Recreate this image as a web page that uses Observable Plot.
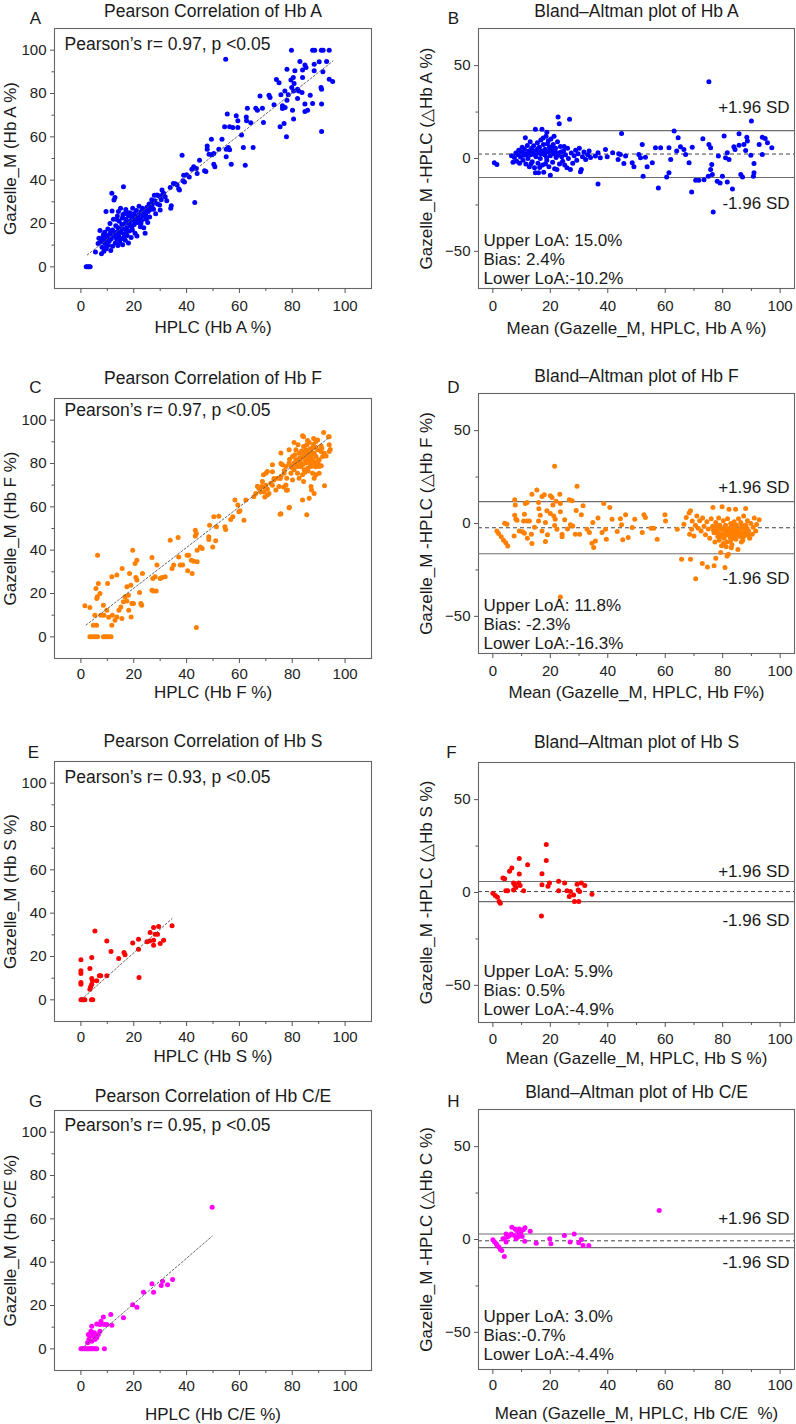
<!DOCTYPE html>
<html>
<head>
<meta charset="utf-8">
<script src="https://cdn.jsdelivr.net/npm/d3@7"></script>
<script src="https://cdn.jsdelivr.net/npm/@observablehq/plot@0.6"></script>
<style>
  body { margin: 0; background: #fff; }
  #chart { position: relative; width: 796px; height: 1424px; font-family: "Liberation Sans", Arial, sans-serif; }
</style>
</head>
<body>
<div id="chart"></div>
<script>
// ---------------- DATA ----------------
const panelIds = ["A", "B", "C", "D", "E", "F", "G", "H"];
const titles = [
  "Pearson Correlation of Hb A", "Bland\u2013Altman plot of Hb A",
  "Pearson Correlation of Hb F", "Bland\u2013Altman plot of Hb F",
  "Pearson Correlation of Hb S", "Bland\u2013Altman plot of Hb S",
  "Pearson Correlation of Hb C/E", "Bland\u2013Altman plot of Hb C/E"
];
const xLabels = [
  "HPLC (Hb A %)", "Mean (Gazelle_M, HPLC, Hb A %)",
  "HPLC (Hb F %)", "Mean (Gazelle_M, HPLC, Hb F%)",
  "HPLC (Hb S %)", "Mean (Gazelle_M, HPLC, Hb S %)",
  "HPLC (Hb C/E %)", "Mean (Gazelle_M, HPLC, Hb C/E\u00a0 %)"
];
const yLabels = [
  "Gazelle_M (Hb A %)", "Gazelle_M -HPLC (\u25B3Hb A %)",
  "Gazelle_M (Hb F %)", "Gazelle_M -HPLC (\u25B3Hb F %)",
  "Gazelle_M (Hb S %)", "Gazelle_M -HPLC (\u25B3Hb S %)",
  "Gazelle_M (Hb C/E %)", "Gazelle_M -HPLC (\u25B3Hb C %)"
];
const pearsonNotes = [
  "Pearson\u2019s r= 0.97, p <0.05", "Pearson\u2019s r= 0.97, p <0.05",
  "Pearson\u2019s r= 0.93, p <0.05", "Pearson\u2019s r= 0.95, p <0.05"
];
// Bland-Altman: [upper LoA, bias, lower LoA]
const loaA = [15.0, 2.4, -10.2];
const loaF = [11.8, -2.3, -16.3];
const loaS = [5.9, 0.5, -4.9];
const loaC = [3.0, -0.7, -4.4];
const loaTextA = ["Upper LoA: 15.0%", "Bias: 2.4%", "Lower LoA:-10.2%"];
const loaTextF = ["Upper LoA: 11.8%", "Bias: -2.3%", "Lower LoA:-16.3%"];
const loaTextS = ["Upper LoA: 5.9%", "Bias: 0.5%", "Lower LoA:-4.9%"];
const loaTextC = ["Upper LoA: 3.0%", "Bias:-0.7%", "Lower LoA:-4.4%"];
const sdLabels = ["+1.96 SD", "-1.96 SD"];

// Fit lines (endpoints)
const fitA = [[2.4, 5.5], [95.4, 95]];
const fitF = [[1.9, 5.4], [94, 92]];
const fitS = [[0.3, 0.3], [34.5, 37.5]];
const fitC = [[0.2, 0], [49.7, 52]];

// Panel A: HPLC vs Gazelle_M, Hb A
const corrA = [
[2,0],[2.5,0],[3,0],[3.5,0],
[5.5,6.8],[6.5,10.8],[6.8,13.2],[7.2,16.8],[7.5,11.5],[7.8,6],[8,9],[8.2,13.5],[8.5,14.8],[8.7,7.2],[9,11],[9,16],[9.3,12.5],[9.5,25.5],[9.6,8.4],[10,13.8],[10.2,17.5],[10.4,10],[10.7,11.8],[11,15.2],[11,20],[11.3,7.5],[11.5,13],[11.7,34],[11.8,25.8],[12,17],[12,9.5],[12.3,22],[12.5,14.5],[12.5,30.8],[12.9,32],[13,11],[13.2,19],[13.5,16],[13.6,12.8],[13.8,23.5],[14,9.8],[14,18],[14.2,25.5],[14.3,14.4],[14.5,21],[14.7,11.5],[15,16.8],[15,27],[15.3,13],[15.5,19.5],[15.7,22.5],[15.8,10.2],[16,17.5],[16.1,37],[16.3,24.5],[16.5,15],[16.6,20],[16.8,12.3],[17,22],[17,26.5],[17.3,18],[17.5,14.5],[17.7,20.8],[18,23.5],[18,11],[18.3,16.5],[18.5,25],[18.6,21],[18.8,19],[19,13.5],[19.2,23],[19.5,17],[19.6,27],[19.8,21.5],[20,24.5],[20.2,19.5],[20.5,15.5],[20.8,22.8],[21,26],[21.2,14.2],[21.5,20.5],[21.8,24],[22,28],[22.2,22],[22.5,18.5],[22.8,25.5],[23,21.5],[23.3,27],[23.5,23.5],[23.8,18],[24,26],[24.3,15.5],[24.5,24],[24.7,22],[25,27.5],[25.3,20.5],[25.5,25.5],[25.8,29],[26,23],[26.3,26.5],[26.8,31],[27,28.5],[27.5,26.6],[27.8,33],[28,30.5],[28.3,24.5],[28.8,33.2],[29,29],[29.4,32.8],[29.8,28.5],[30,26.2],[30,32.3],[30.4,31],[30.7,35.5],[31,33.5],[31.3,34],[31.9,32.3],[32.5,30.5],[33.8,36.6],[34,27],[34.2,28.2],[35,38.5],[35.7,38.4],[36.4,37.8],[37,36],[37.3,35.5],[38.3,51.5],[38.6,39.7],[38.9,42.3],[39.2,39.2],[40,42.5],[41,41.5],[42,45],[42.7,46.2],[43.1,29.7],[43.7,45.4],[44,43.1],[44.9,49.2],[46.8,44.3],[47.3,44],[47.8,55.8],[47.8,54.3],[48.5,52],[49.4,58.9],[49.6,51.7],[50.3,47.4],[50.3,52.3],[50.7,46.2],[52.2,54.3],[53.4,58.9],[54.4,64.6],[54.8,95.8],[55,50.8],[55,54.3],[55.4,70.5],[55.8,55.1],[56.3,54],[56.3,64.6],[56.9,47.4],[57.5,64.3],[58.8,69.7],[59.4,64.3],[59.4,67.4],[60.8,60.9],[61.5,55.1],[62.2,46.9],[62.6,69.2],[62.7,67.4],[63,73.2],[64.3,66.5],[65.2,55.1],[66.2,73.2],[66.8,72.3],[67.8,78.9],[68.7,73.2],[69.1,66.6],[71.2,79.2],[71.6,78.2],[73.1,74.8],[74,86.5],[75,85],[75.4,64.6],[75.7,79.4],[76.3,74.3],[76.3,73.1],[76.9,66.2],[77.2,81.2],[77.3,73.5],[77.8,60],[78,91.2],[78,76.9],[78.5,79.4],[79.5,86.2],[79.7,100],[79.8,82.8],[80.1,72.3],[80.4,87.4],[80.5,68.2],[80.5,81.2],[80.7,84.6],[81,90.5],[82,82],[82,77.7],[82.4,81.2],[82.9,94.8],[83.7,80.5],[83.9,90.8],[83.9,87.4],[84.8,93.1],[84.8,75.1],[84.8,71.7],[85.2,92],[85.8,72.3],[86.8,79.2],[87.7,100],[87.7,75.4],[88.3,93.5],[88.3,90.5],[88.5,100],[90.2,94.6],[90.9,82.8],[91,100],[91.1,82],[91.1,75.1],[91.1,62.5],[91.6,90],[91.7,100],[93,94.8],[94,100],[94,86.6],[95.3,85.5],
[9.8,14.5],[10.5,12.8],[11.2,16.5],[12.8,15.5],[13.3,13.5],[14.8,17.5],[15.2,15.8],[16.3,13.8],[17.2,16.2],[18.2,20],[19.3,18.5],[19.9,22.8],[20.7,21],[21.7,23],[22.7,20],[23.8,24.8],[24.8,25.8],[26.5,28],[27.3,29.8],[13.7,21.8],[15.9,24],[17.8,24.8],[8.3,11.8],[9.7,9.5]
];

// Panel B: mean vs difference, Hb A
const baA = [
[0.5,-2.3],[1.4,-3.2],
[6.5,1.5],[7,-2],[7.5,0.5],[8,3],[8.3,-1.5],[8.8,2],[9,4.5],[9.3,-2.5],[9.6,0.8],[10,3.5],[10.2,6],[10.5,-1],[10.8,1.8],[11,5],[11.3,11.2],[11.5,-3],[11.8,2.5],[12,7],[12.2,0],[12.5,4],[12.7,-4.5],[13,9],[13.2,2],[13.5,5.5],[13.7,-1.8],[14,3],[14.2,6.8],[14.5,-5],[14.8,15.7],[14.8,-7.7],[15,1],[15.2,4.5],[15.5,8.5],[15.7,-2.5],[15.9,-7.7],[16,3],[16.2,6],[16.5,0],[16.7,10],[17,4],[17.1,15.7],[17.3,-3.5],[17.6,7.5],[17.7,-7.4],[18,2],[18.2,5],[18.5,12],[18.8,14.2],[18.8,-1],[19,8],[19.2,3.5],[19.5,-4.5],[19.7,6],[20,-9],[20,1.5],[20.2,10.5],[20.5,4.5],[20.8,-2],[21,7.5],[21.2,2.5],[21.5,-5.5],[21.8,5.5],[22,0.5],[22.3,-5.9],[22.5,9],[22.7,22.3],[22.8,3],[23.1,18.7],[23.2,-3],[23.5,6.5],[24,1],[24.3,-1.5],[24.6,4],[25,-3.5],[25.3,2],[25.8,-5],[26,5.5],[26.3,0],[26.7,21.1],[27,-5.9],[27.3,3],[27.8,-2.5],[28.3,1.5],[28.8,4.5],[29.2,-1],[29.7,2.5],[30.1,5.5],[30.5,-7.2],[30.8,-5.9],[31.2,1],[31.7,3.5],[32.3,-0.5],[33,2],[33.5,4],[34,0.5],
[10.7,3],[12.3,1.5],[13.8,4.2],[14.7,2],[15.8,5.5],[16.8,2.5],[17.8,3.8],[18.7,0.5],[19.8,4],[20.7,6.5],[21.7,3.5],[22.6,1.8],[23.7,3.5],[16.3,-4.8],[18.3,-2.8],[19.3,9.5],[21.3,12],[24.8,6.5],[17.5,11],[13.3,-2.8],
[35.7,1.3],[36.6,3.1],[36.6,-13.7],[37.4,0.4],[39.2,4.9],[39.8,0.9],[41.7,3.1],[43.6,-0.5],[43.8,2.5],[44.4,2.2],[44.8,13.5],[45.6,-2.7],[46.2,1.3],[48.5,-2.3],[49.1,-4.5],[50.8,2.2],[51.4,0.4],[52,7.6],[52.3,-9.5],[53.1,0.7],[53.7,-4.5],[55.5,-2.3],[56.6,5.8],[57.6,-15.9],[58.4,5.8],[60.5,-9.9],[61.3,-7.7],[61.3,5.8],[61.9,-0.5],[63.1,14.8],[64,4],[64.5,11.2],[65.3,6.3],[66.5,4.9],[67.1,2.2],[68.3,-2.3],[69.2,-18],[69.4,6.1],[70.6,-11.7],[71.7,-11.7],[73.1,10.6],[73.5,-11.4],[75,-9.5],[75.2,41.3],[75.2,7.6],[75.8,5.8],[75.8,-5.9],[76.2,-3.2],[76.4,-8.6],[76.7,-28.8],[78.1,-12.3],[78.5,1.3],[79.1,-13.2],[79.9,-9.5],[80.5,12.1],[81,0.4],[81.6,3.1],[81.6,-12.6],[82.2,-0.5],[83.4,-16.4],[83.9,6.3],[84.3,4.9],[85.7,13.3],[85.7,7.2],[86.3,-8.6],[86.9,-9.9],[87.4,7.6],[88,4.3],[88.4,11.5],[88.6,9.4],[89.8,1.8],[90,20.2],[90.7,-9.5],[90.9,-7.7],[90.9,-2.7],[92.7,7.6],[93.8,11.5],[93.8,2.2],[94.8,10.8],[95.6,8.5],[97.1,5.8]
];

// Panel C: Hb F correlation
const corrF = [
[3.4,0],[4.2,0],[4.9,0],[5.6,0],[6.3,0],[8.5,0],[9.2,0],[9.8,0],[10.6,0],[11.4,0],
[1.5,14.3],[3.4,13.5],[4.7,5.4],[5.3,10],[5.9,5.4],[5.7,22.3],[6,17.7],[6.3,37.7],[6.6,24.6],[6.2,18.5],[7.5,10],[7.2,20],[8.5,14.6],[8.7,10],[9.8,12.3],[10.1,24.6],[10.5,9],[11.7,27.7],[11.7,5.4],[11.9,10],[12.9,7.7],[13.6,28.5],[13.6,9.2],[14.4,12.3],[15.1,13.8],[15.5,8.5],[15.6,31.5],[16.1,16.2],[16.7,18.5],[17.4,23.1],[17.4,16.5],[18,19.2],[18.1,12.3],[18.4,29.2],[18.9,23.8],[19,9.2],[19.3,15.4],[19.6,40],[19.9,15.4],[20.5,33.8],[20.8,27.4],[21.2,35.4],[21.2,26.2],[22.2,20.5],[22.7,15.4],[23,14.6],[23.3,29.2],[26.9,36.6],[26.9,21.5],[27.5,21.2],[27.2,26.9],[28.1,27.7],[28.5,21.2],[28.8,33.1],[30,26.9],[30.7,27.4],[31.9,27.7],[33.8,44.6],[34.5,31.5],[35.1,33.1],[36.8,45.8],[37,36.9],[37.6,33.1],[38.5,33.1],[40.2,37.7],[40.8,37.7],[40.4,30.5],[41.8,35.4],[42.1,29.2],[42.7,34.9],[43.3,49.2],[43.7,47.7],[43.3,46.5],[44,40],[44,34.6],[43.7,4.3],[45.2,41.5],[45.9,40.8],[48.4,44.9],[48.4,46.2],[48.7,51.5],[49.9,41.5],[50.3,55.4],[51,44.3],[51.3,50.8],[52.2,55.7],[54.5,50.8],[54.8,49.5],[56.7,54.2],[57.5,55.4],[58.3,63.1],[59.4,60.8],[59.8,57.7],[60.2,58.2],[61.7,53.8],[62.4,63.1],[65.5,64.6],[66.2,66.2],[66.8,69.5],[67.4,68.5],[68.1,66.9],[69.3,69.2],[70,70],[70.6,68.2],[71.2,66.2],[72.5,70],[73.1,73.1],[72.5,76.2],[75.4,73.1],[75.7,80],[76.7,69.2],[77.8,67.7],[75.4,56.6],[78.8,59.5],
[83.9,92.8],[91.9,94.3],[93.7,92.4],[88.1,91.5],[89,90.1],[85.8,90.6],[80.7,89.7],[78.8,86.3],[75.7,84.8],[82.2,88.6],[90.9,88.1],[94,85.5],[92.8,83.5],[72.5,79.4],[70.6,76.3],[70,75.5],[69.1,74.8],[68.7,71.7],[68.4,69.4],[69.3,67],[70.6,65.5],[69.6,64.5],[73.8,67.8],[75,69.4],[77.6,70.1],[78.2,67.8],[77.9,73.2],[80.1,72.4],[82,75.5],[82.6,73.2],[83.9,74.8],[84.5,77.1],[85.8,77.8],[87.1,78.6],[87.7,75.5],[89,74.8],[90.2,75.5],[88.3,73.2],[84.3,71.7],[80.7,77.1],[79.5,75.5],[76.9,75.5],[75.7,74],[74.4,73.2],[73.1,72.4],[71.9,70.9],
[82,80.2],[83.3,78.6],[83.9,83.2],[84.5,84.7],[85.2,86.3],[82,78.6],[80.7,80.2],[85.8,83.2],[86.4,84.7],[87.1,85.5],[88.3,84.7],[89,83.2],[89.6,86.3],[90.9,85.5],[92.1,84.7],[82.6,84.7],[81.4,81.7],[85.2,80.2],[86.4,81],[87.7,81.7],[88.3,80.2],[90.2,81.7],[91.5,83.2],[90.2,78.6],[87.1,83.2],[85.5,88.6],[86.4,89.7],[84.3,87.8],[81.4,86.3],[78.8,80.2],[77.6,78.6],[76.3,79.4],[80.1,83.2],[83,81],[84,79.5],[86,82.5],[87.5,87],[88.8,87.5],[83.5,85.8],[81,84],[79.5,79],[86.8,79.8],[89.5,81],[84.8,81.8],
[80,78],[81.5,79.3],[83.5,79.8],[84.8,76],[86,76.5],[87,80.8],[88.8,78.5],[89.8,80],[91,79],[82.8,82.5],[85,85],[86.8,86.8],[88,88.8],[91.2,87],[79,82],[77,76.8],
[87.1,69.4],[87.3,67.8],[88.3,66.2],[92.2,69.7],[83.9,63.2],[86.4,64],[78.9,59.8],[75.7,56.8],[85.5,56.4],[84.3,92.3],[94,92.3],[89.6,90.8],[94,88.6],[94.4,86.5]
];

// Panel D: Hb F Bland-Altman
const baF = [
[1.4,-4],[2,-5.4],[2.9,-7.2],[3.7,-9],[4.5,-10.3],[5.2,-12.1],[4.1,0.2],[4.9,-0.4],[7.6,12.8],[7.8,9.9],[7.6,4.5],[8,2.3],[7.4,-6.7],[9.2,-4],[8.4,1.8],[10.3,-4.5],[11,-5.2],[11.3,10.8],[11.9,11.3],[10.7,1.4],[11,5],[11.9,1.4],[12.7,1.4],[13.4,-5.8],[13.6,-10.8],[13.6,15.8],[15.3,18],[15.9,11.3],[15.9,1.4],[16.5,4.5],[17.1,-4],[18.3,-9.7],[17.1,14.6],[17.9,15.5],[20,15],[20.6,14],[20.9,9.9],[18.8,6.8],[20,5.4],[21.2,4.1],[21.7,2.3],[18.3,0.5],[21.5,-1.1],[22.3,-3.1],[21.5,30.8],[23.5,6.3],[23.3,15.8],[23.5,10.8],[24.1,-5.8],[24.1,-7.2],[26.6,12.8],[27.6,12.2],[27,-0.7],[27.8,-1.3],[28.7,-5.8],[29.3,20],[30.2,-5.8],[30.8,4.7],[31.4,9.5],[32.8,-3.1],[33.6,-4.9],[34.5,-10.6],[35.1,-12.9],[34.8,0.5],[35.7,-9.4],[36.6,2.9],[38,-4.9],[38.6,10.8],[39.2,-3.1],[39.5,-8.5],[40.7,8.6],[23.5,-39.6],[41.5,2.3],[43.3,-4.3],[44.4,2.5],[44.8,-0.7],[45.2,-8.8],[46.2,4.7],[47.1,-7.6],[48.5,-2.2],[49.4,2.3],[52,-4.9],[52.6,4.7],[53.1,3.2],[55.1,-2.5],[56,-2.5],[57.2,-8.5],[59.9,4.7],[60.1,1.4],[64.2,-3.1],
[14.5,-2],[16,8],[19,-6],[22,12],[25,2],[26,-3],[29,7],[12,-8],
[66.5,-0.4],[67.3,3.2],[68.3,5.6],[68.8,6.8],[69.4,1.4],[68.5,-5.8],[70,-6.7],[69.2,-3.1],[70.5,-1],[71,4],[71.5,-2.5],[72,1.5],[72.5,-4],[73,3],[73.5,-1.5],[74,-6],[74.5,1],[75,-3],[75.5,-8],[76,2.5],[76.6,8.6],[76.5,-1.5],[77,-5],[77.3,-10],[77.6,0.5],[78,-3.5],[78.3,-7],[78.6,3],[79,-1],[79.3,-5.5],[79.6,-12],[79.8,9],[80,-3],[80.2,1.5],[80.5,-8],[80.7,-4],[81,-1],[81.2,-6],[81.5,-10],[81.7,2.5],[82,-3],[82.2,7.7],[82.3,-5],[82.6,-7.5],[82.8,0],[83,-2],[83.2,-11.5],[83.5,-4.5],[83.7,-6.5],[84,1],[84.2,-3],[84.5,7.7],[84.6,-8.5],[84.8,-1],[85,-5],[85.3,-14],[85.5,2.5],[85.8,-3.5],[86,-7],[86.3,0.5],[86.5,-2],[86.8,-5.5],[87,-9],[87.3,4],[87.6,-3],[88,8.1],[88,-1],[88.3,-6],[88.6,1.5],[89,-4],[89.4,-8],[89.8,0],[90.3,-5.8],[90.6,-2],[91,3],[91.5,-4],[92.7,2],[91.8,-0.5],
[80.5,-6.5],[81.8,-4.5],[82.5,-2.5],[83.8,-8],[84.4,-5.5],[79.5,-3],[78.8,-9],[86.5,-10],[81.2,-12.5],[83,-13],
[78.5,-5.2],[79.8,-7],[80.8,-2.2],[81.3,-3.5],[82.4,-6.2],[82.9,-4],[83.6,-1.2],[84.1,-7.2],[84.9,-3.8],[85.6,-6],[86.1,-4.2],[86.7,-1],[87.4,-6.8],[87.9,-4.5],[88.5,-2.5],[89.2,-6.5],[76.8,-3.5],[77.8,-1.8],[80.3,-10.8],[82.7,-9.5],
[65.7,-19.2],[68.8,-19.2],[70.6,-29.7],[72.9,-21.6],[74.7,-23.4],[77,-22.8],[77.6,-18.7],[79.3,-15.6],[80.8,-23.7],[82,-16.5],[81.5,-17.5]
];

// Panel E: Hb S correlation
const corrS = [
[0,0],[0.5,0],[1,0],[1.5,0],[4,0],[4.5,0],
[0,18.5],[0,13.4],[0,12.2],[0,8],[0,7.2],[5.3,31.8],[4.1,19.5],[3.4,14.5],[4.1,9.8],[4.4,8.8],[4.1,7.2],[3.7,6],[3.4,4.9],[6,8.8],[7,11.1],[7.5,11.1],[9.8,11.1],[9.8,27.2],[11.4,22.3],[14.3,19.1],[16.3,21.8],[16.7,20.8],[19.6,26.2],[21.8,28],[21.8,23.4],[22,10.3],[25,26.8],[26.2,31.1],[26,27.2],[27.5,33.4],[27.5,27.5],[27.5,25.2],[28.1,30.3],[29,30.3],[29.4,33.8],[30,26],[31.3,27.5],[34.5,34.2]
];

// Panel F: Hb S Bland-Altman
const baS = [
[0,-0.4],[0.8,-1.6],[1.6,-2.5],[2.2,-4.9],[2.6,-5.8],[3.5,7.8],[4.1,7.4],[4.5,0.9],[5.2,0.9],[5.8,11.4],[6.6,13.2],[7.2,5.1],[7.6,4.2],[8,2.7],[7.2,1.4],[9.2,18.3],[9.2,10],[9,5.1],[9.5,3.8],[10.7,0.9],[12.1,15],[16.9,-12.7],[17.1,10.1],[17.1,4.2],[18.6,25.9],[18.6,17.2],[19.2,3.3],[19.7,5.1],[22.9,6],[22.9,0.9],[25,5.1],[25.8,0.9],[26.6,-2.2],[27,0.5],[28.1,-1.3],[28.4,-4.9],[29.3,4.5],[29.7,1.4],[29.9,-4.9],[30.2,0.5],[30.8,5.1],[32,3.8],[34.5,-0.9]
];

// Panel G: Hb C/E correlation
const corrC = [
[0,0],[0.5,0],[1,0],[1.5,0],[2,0],[2.5,0],[3,0],[3.5,0],[4,0],[4.5,0],[5,0],[5.5,0],[6,0],[8.9,0],
[49.7,65.3],[34.7,32],[30.9,31.2],[30.4,29.2],[32.8,29.6],[26.9,30],[23.7,26.1],[27.5,26.1],[19.6,20.4],[21.2,19.2],[16.1,14.3],[11.3,15.8],[8.5,14.7],[11.7,10.9],[9.8,11.2],[7.2,11.2],[6,11.5],[4.1,10.4],[7.6,12.7],[8.9,11.2],
[2.8,6.6],[3.4,5.8],[4.4,7.4],[4.7,5.8],[5.3,5.8],[6,5.1],[2.5,2.8],[3,4.3],[4.1,3.5],[5.3,4.3],[5.1,7.4],[3.8,8.1],[7.2,8.1],[6.6,6.6]
];

// Panel H: Hb C/E Bland-Altman
const baC = [
[57.9,15.6],
[0,-0.2],[0.6,-1.4],[1.2,-2.3],[1.5,-3.2],[2.1,-4.1],[2.6,-5.4],[3.1,-5.9],[4,-9.1],
[6.6,6.6],[7.8,5.7],[8.3,4.8],[9.2,5.7],[9.7,3.9],[10.6,5.2],[11.2,6.3],[13,4.5],[4,0.4],[4.6,3],[5.2,1.3],[5.8,2.2],[6.4,3],[7.5,2.2],[8.1,0.4],[9.1,3],[10.2,1.6],[11.1,-0.9],[4.6,-1.4],[3.5,0.4],[8.7,1.3],
[15.1,-2],[19.8,0.4],[20.2,-2.3],[24.9,2.2],[26.9,-1.4],[28.3,3],[29.9,-1.8],[30.8,0],[31.4,-3.2],[33.4,-3.2]
];

// ---------------- LAYOUT (positions / styles) ----------------
const layout = [
  {col: 0, top: 28,   points: corrA, fit: fitA, color: "#0000ff", note: pearsonNotes[0], titleDy: -17, letterDx: -19, letterDy: -10, noteDy: 16, tickPad: 7, xLabDy: 39},
  {col: 1, top: 28,   points: baA, loa: loaA, loaText: loaTextA, color: "#0000ff", titleDy: -17, letterDx: -25, letterDy: -10, sdDy: [-23, 26], loaDy: -10, tickPad: 7, xLabDy: 40},
  {col: 0, top: 398,  points: corrF, fit: fitF, color: "#ff8000", note: pearsonNotes[1], titleDy: -20, letterDx: -19, letterDy: -11, noteDy: 12, tickPad: 5, xLabDy: 34},
  {col: 1, top: 393,  points: baF, loa: loaF, loaText: loaTextF, color: "#ff8000", titleDy: -17, letterDx: -25, letterDy: -6, sdDy: [-14, 25], loaDy: -10, tickPad: 7, xLabDy: 39},
  {col: 0, top: 761,  points: corrS, fit: fitS, color: "#ff0000", note: pearsonNotes[2], titleDy: -20, letterDx: -21, letterDy: -9, noteDy: 16, tickPad: 5, xLabDy: 35},
  {col: 1, top: 762,  points: baS, loa: loaS, loaText: loaTextS, color: "#ff0000", titleDy: -20, letterDx: -27, letterDy: -10, sdDy: [-10, 19], loaDy: -13, tickPad: 6, xLabDy: 36},
  {col: 0, top: 1110, points: corrC, fit: fitC, color: "#ff00ff", note: pearsonNotes[3], titleDy: -14, letterDx: -19, letterDy: -9, noteDy: 15, tickPad: 5, xLabDy: 44},
  {col: 1, top: 1109, points: baC, loa: loaC, loaText: loaTextC, color: "#ff00ff", titleDy: -17, letterDx: -25, letterDy: -8, sdDy: [-15, 15], loaDy: -15, tickPad: 5, xLabDy: 44}
];

const TXT = "#1a1a1a";
const FS = 17;
const chart = document.getElementById("chart");

layout.forEach((p, i) => {
  const left = p.col === 0;
  const MT = 28, MB = 52, FH = 260;
  const ml = left ? 54 : 80, mr = left ? 27 : 2;
  const xMajor = [0, 20, 40, 60, 80, 100], xMinor = [10, 30, 50, 70, 90];
  const yMajor = left ? [0, 20, 40, 60, 80, 100] : [-50, 0, 50];
  const yMinor = left ? [10, 30, 50, 70, 90] : [-25, 25];
  const marks = [];
  if (!left) {
    marks.push(Plot.ruleY([p.loa[0], p.loa[2]], {stroke: "#6e6e6e", strokeWidth: 1.1}));
    marks.push(Plot.ruleY([p.loa[1]], {stroke: "#444", strokeWidth: 1, strokeDasharray: "4,3"}));
  }
  marks.push(Plot.dot(p.points, {x: d => d[0], y: d => d[1], r: 2.5, fill: p.color}));
  if (left) {
    marks.push(Plot.line(p.fit, {x: d => d[0], y: d => d[1], stroke: "#555", strokeWidth: 0.9, strokeDasharray: "2,2"}));
  }
  marks.push(Plot.frame({stroke: "#666", strokeWidth: 1.1}));
  marks.push(Plot.axisX({ticks: xMajor, tickSize: 5, tickPadding: p.tickPad, label: null, stroke: "#555", fill: "#222"}));
  marks.push(Plot.axisX({ticks: xMinor, tickSize: 3, tickFormat: () => "", label: null, stroke: "#555"}));
  marks.push(Plot.axisY({ticks: yMajor, tickSize: 4, tickPadding: 4, label: null, stroke: "#555", fill: "#222"}));
  marks.push(Plot.axisY({ticks: yMinor, tickSize: 2.5, tickFormat: () => "", label: null, stroke: "#555"}));
  // title & panel letter
  marks.push(Plot.text([titles[i]], {text: d => d, frameAnchor: "top", dy: p.titleDy, fontSize: 17.5, fill: TXT, textAnchor: "middle", lineAnchor: "middle"}));
  marks.push(Plot.text([panelIds[i]], {text: d => d, frameAnchor: "top-left", dx: p.letterDx, dy: p.letterDy, fontSize: FS, fill: TXT, textAnchor: "middle", lineAnchor: "middle"}));
  // axis labels
  marks.push(Plot.text([xLabels[i]], {text: d => d, frameAnchor: "bottom", dy: p.xLabDy, fontSize: FS, fill: TXT, textAnchor: "middle", lineAnchor: "middle"}));
  marks.push(Plot.text([yLabels[i]], {text: d => d, frameAnchor: "left", dx: left ? -44 : -52, rotate: -90, fontSize: FS, fill: TXT, textAnchor: "middle", lineAnchor: "middle"}));
  if (left) {
    marks.push(Plot.text([p.note], {text: d => d, frameAnchor: "top-left", dx: 10, dy: p.noteDy, fontSize: 17.5, fill: TXT, textAnchor: "start", lineAnchor: "middle"}));
  } else {
    marks.push(Plot.text([{t: sdLabels[0], v: p.loa[0]}], {y: "v", text: "t", frameAnchor: "right", dx: -5, dy: p.sdDy[0], fontSize: FS, fill: TXT, textAnchor: "end", lineAnchor: "middle"}));
    marks.push(Plot.text([{t: sdLabels[1], v: p.loa[2]}], {y: "v", text: "t", frameAnchor: "right", dx: -5, dy: p.sdDy[1], fontSize: FS, fill: TXT, textAnchor: "end", lineAnchor: "middle"}));
    p.loaText.forEach((t, k) => {
      marks.push(Plot.text([t], {text: d => d, frameAnchor: "bottom-left", dx: 5, dy: p.loaDy - 19 * (2 - k), fontSize: FS, fill: TXT, textAnchor: "start", lineAnchor: "middle"}));
    });
  }
  const svg = Plot.plot({
    width: 398,
    height: MT + FH + MB,
    marginTop: MT, marginBottom: MB, marginLeft: ml, marginRight: mr,
    x: {domain: left ? [-10, 110] : [-5, 105]},
    y: {domain: left ? [-10, 110] : [-70, 70]},
    style: {fontFamily: "'Liberation Sans', Arial, sans-serif", fontSize: "15px", color: "#222", background: "transparent", overflow: "visible"},
    marks
  });
  svg.style.position = "absolute";
  svg.style.left = (left ? 0 : 398) + "px";
  svg.style.top = (p.top - MT) + "px";
  chart.appendChild(svg);
});
</script>
</body>
</html>
